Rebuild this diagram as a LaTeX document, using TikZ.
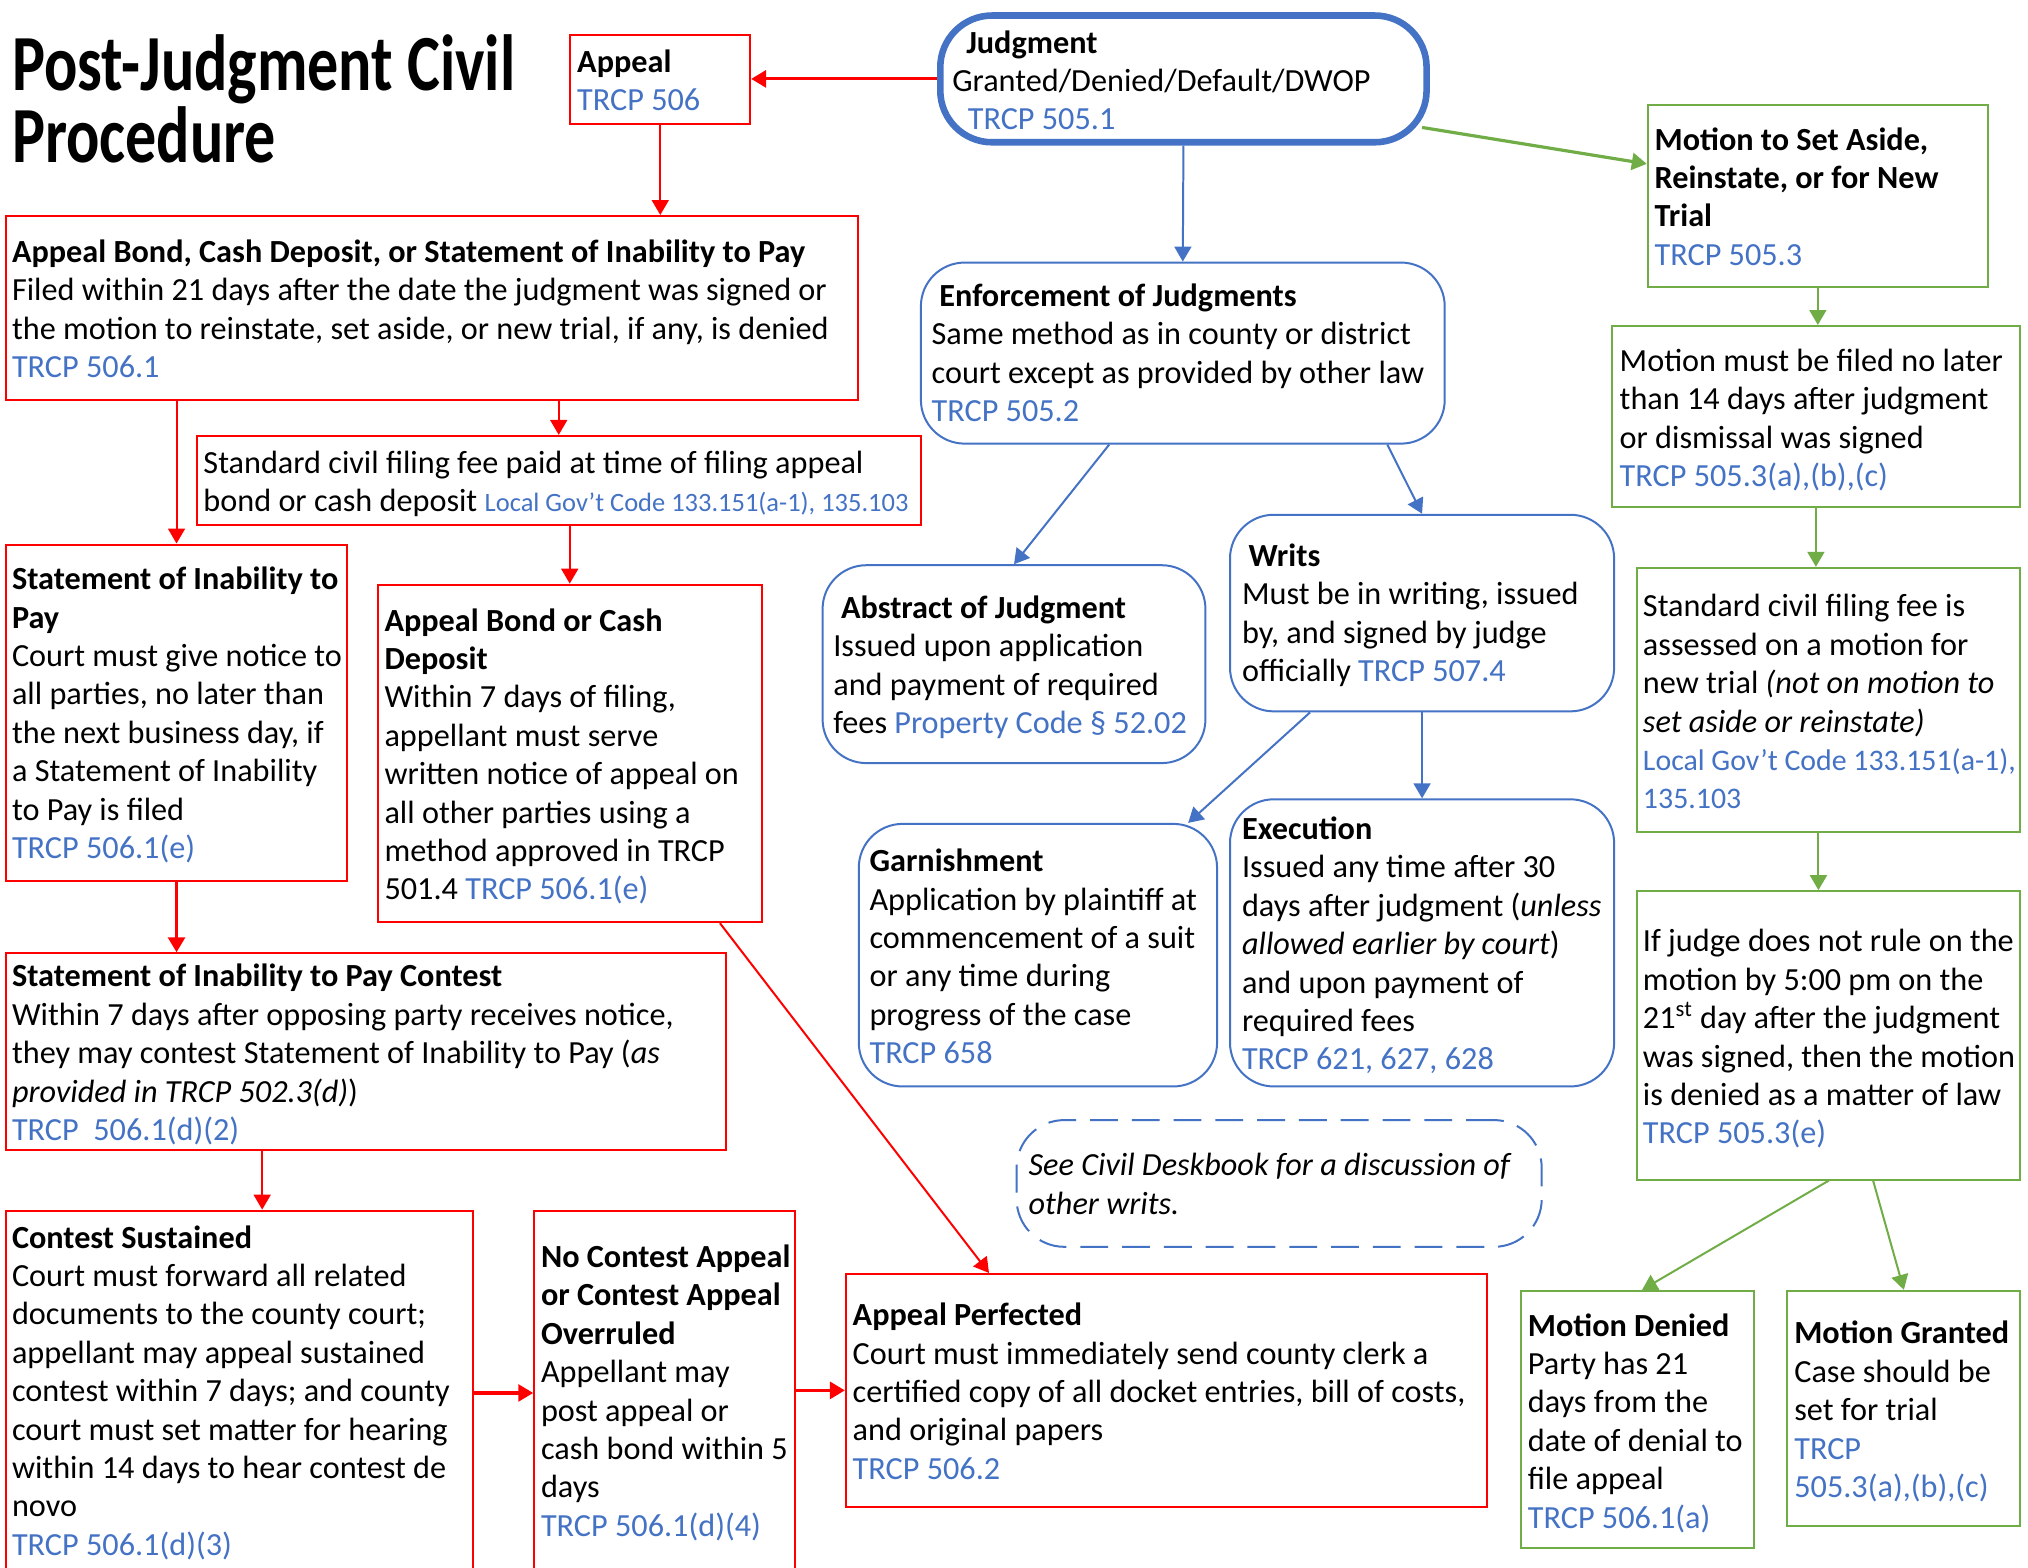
\documentclass[tikz,border=0pt]{standalone}
\usepackage{fontspec}
\usepackage{graphicx}
\setmainfont{Carlito}
\usetikzlibrary{arrows.meta,fit,calc}

\definecolor{refblue}{HTML}{4472C4}
\definecolor{rline}{HTML}{FF0000}
\definecolor{gline}{HTML}{70AD47}
\definecolor{bline}{HTML}{4472C4}

\newcommand\bodyfont{\fontsize{16.2}{19.3}\selectfont}
\newcommand\smallref{\fontsize{13.3}{19.3}\selectfont}
\newcommand\midref{\fontsize{15}{19.3}\selectfont}
\newcommand\titlefont{\fontsize{40}{44}\selectfont\bfseries}
\newcommand\rf[1]{\textcolor{refblue}{#1}}
\newcommand\txtlines[1]{\begin{tabular}[t]{@{}l@{}}#1\end{tabular}}

\tikzset{
  x=0.65pt, y=-0.65pt,
  redbox/.style={inner sep=0pt, draw=rline, line width=1pt},
  greenbox/.style={inner sep=0pt, draw=gline, line width=1pt},
  bluebox/.style={inner sep=0pt, draw=bline, line width=1pt, rounded corners=22pt},
  thickbox/.style={inner sep=0pt, draw=bline, line width=3.3pt, rounded corners=26pt},
  notebox/.style={inner sep=0pt, draw=bline, line width=1pt, rounded corners=24pt, dash pattern=on 14pt off 7pt},
  txt/.style={anchor=base west, inner sep=0pt, font=\bodyfont},
  rarrow/.style={draw=rline, line width=1pt, -{Triangle[length=7.5pt,width=8.5pt]}},
  garrow/.style={draw=gline, line width=1pt, -{Triangle[length=7.5pt,width=8.5pt]}},
  barrow/.style={draw=bline, line width=1pt, -{Triangle[length=7.5pt,width=8.5pt]}},
  heavy/.style={line width=1.6pt},
}

\begin{document}
\begin{tikzpicture}
\useasboundingbox[fill=white] (0,0) rectangle (1568,1212);

% ---------- title ----------
\node[txt, font=\titlefont] (title1) at (9,70) {\scalebox{0.78}[1]{Post-Judgment Civil}};
\node[txt, font=\titlefont] (title2) at (9,126) {\scalebox{0.78}[1]{Procedure}};

% ---------- frames ----------
\node[redbox, fit={(441,27) (580,96)}] (appeal) {};
\node[thickbox, fit={(727,12) (1103,110)}] (judg) {};
\node[greenbox, fit={(1274,81) (1537,222)}] (motion) {};
\node[bluebox, fit={(712,203) (1117,343)}] (enf) {};
\node[redbox, fit={(5,167) (663,309)}] (bond) {};
\node[redbox, fit={(152,337) (712,406)}] (fee) {};
\node[redbox, fit={(5,421) (268,681)}] (sip) {};
\node[redbox, fit={(292,452) (589,713)}] (cash) {};
\node[redbox, fit={(5,737) (561,889)}] (contest) {};
\node[redbox, fit={(5,936) (366,1218)}] (sustain) {};
\node[redbox, fit={(413,936) (615,1218)}] (overrule) {};
\node[redbox, fit={(654,985) (1150,1165)}] (perfect) {};
\node[bluebox, fit={(636,437) (932,590)}] (abstract) {};
\node[bluebox, fit={(951,398) (1248,550)}] (writs) {};
\node[bluebox, fit={(664,637) (941,840)}] (garnish) {};
\node[bluebox, fit={(951,618) (1248,840)}] (exec) {};
\node[notebox, fit={(786,866) (1192,964)}] (note) {};
\node[greenbox, fit={(1246,252) (1562,392)}] (filed) {};
\node[greenbox, fit={(1266,439) (1562,643)}] (mfee) {};
\node[greenbox, fit={(1266,689) (1562,912)}] (norule) {};
\node[greenbox, fit={(1176,998) (1356,1197)}] (denied) {};
\node[greenbox, fit={(1382,998) (1562,1180)}] (granted) {};

% ---------- texts ----------
\node[txt] (t-appeal) at (446,56) {\txtlines{\textbf{Appeal}\\ \rf{TRCP 506}}};
\node[txt] (t-judg) at (736,41) {\txtlines{\hspace*{7pt}\textbf{Judgment}\\ Granted/Denied/Default/DWOP\\ \hspace*{7.8pt}\rf{TRCP 505.1}}};
\node[txt] (t-motion) at (1279,116) {\txtlines{\textbf{Motion to Set Aside,}\\ \textbf{Reinstate, or for New}\\ \textbf{Trial}\\ \rf{TRCP 505.3}}};
\node[txt] (t-enf) at (720,237) {\txtlines{\hspace*{3.9pt}\textbf{Enforcement of Judgments}\\ Same method as in county or district\\ court except as provided by other law\\ \rf{TRCP 505.2}}};
\node[txt] (t-bond) at (9,203) {\txtlines{\textbf{Appeal Bond, Cash Deposit, or Statement of Inability to Pay}\\ Filed within 21 days after the date the judgment was signed or\\ the motion to reinstate, set aside, or new trial, if any, is denied\\ \rf{TRCP 506.1}}};
\node[txt] (t-fee) at (157,366) {\txtlines{Standard civil filing fee paid at time of filing appeal\\ bond or cash deposit {\smallref\rf{Local Gov’t Code 133.151(a-1), 135.103}}}};
\node[txt] (t-sip) at (9,456) {\txtlines{\textbf{Statement of Inability to}\\ \textbf{Pay}\\ Court must give notice to\\ all parties, no later than\\ the next business day, if\\ a Statement of Inability\\ to Pay is filed\\ \rf{TRCP 506.1(e)}}};
\node[txt] (t-cash) at (297,488) {\txtlines{\textbf{Appeal Bond or Cash}\\ \textbf{Deposit}\\ Within 7 days of filing,\\ appellant must serve\\ written notice of appeal on\\ all other parties using a\\ method approved in TRCP\\ 501.4 \rf{TRCP 506.1(e)}}};
\node[txt] (t-contest) at (9,763) {\txtlines{\textbf{Statement of Inability to Pay Contest}\\ Within 7 days after opposing party receives notice,\\ they may contest Statement of Inability to Pay (\textit{as}\\ \textit{provided in TRCP 502.3(d)})\\ \rf{TRCP\ \ 506.1(d)(2)}}};
\node[txt] (t-sustain) at (9,965) {\txtlines{\textbf{Contest Sustained}\\ Court must forward all related\\ documents to the county court;\\ appellant may appeal sustained\\ contest within 7 days; and county\\ court must set matter for hearing\\ within 14 days to hear contest de\\ novo\\ \rf{TRCP 506.1(d)(3)}}};
\node[txt] (t-overrule) at (418,980) {\txtlines{\textbf{No Contest Appeal}\\ \textbf{or Contest Appeal}\\ \textbf{Overruled}\\ Appellant may\\ post appeal or\\ cash bond within 5\\ days\\ \rf{TRCP 506.1(d)(4)}}};
\node[txt] (t-perfect) at (659,1025) {\txtlines{\textbf{Appeal Perfected}\\ Court must immediately send county clerk a\\ certified copy of all docket entries, bill of costs,\\ and original papers\\ \rf{TRCP 506.2}}};
\node[txt] (t-abstract) at (644,478) {\txtlines{\hspace*{3.9pt}\textbf{Abstract of Judgment}\\ Issued upon application\\ and payment of required\\ fees \rf{Property Code § 52.02}}};
\node[txt] (t-writs) at (960,438) {\txtlines{\hspace*{3.3pt}\textbf{Writs}\\ Must be in writing, issued\\ by, and signed by judge\\ officially \rf{TRCP 507.4}}};
\node[txt] (t-garnish) at (672,674) {\txtlines{\textbf{Garnishment}\\ Application by plaintiff at\\ commencement of a suit\\ or any time during\\ progress of the case\\ \rf{TRCP 658}}};
\node[txt] (t-exec) at (960,649) {\txtlines{\textbf{Execution}\\ Issued any time after 30\\ days after judgment (\textit{unless}\\ \textit{allowed earlier by court})\\ and upon payment of\\ required fees\\ \rf{TRCP 621, 627, 628}}};
\node[txt] (t-note) at (795,909) {\txtlines{\textit{See Civil Deskbook for a discussion of}\\ \textit{other writs.}}};
\node[txt] (t-filed) at (1252,287) {\txtlines{Motion must be filed no later\\ than 14 days after judgment\\ or dismissal was signed\\ \rf{TRCP 505.3(a),(b),(c)}}};
\node[txt] (t-mfee) at (1270,477) {\txtlines{Standard civil filing fee is\\ assessed on a motion for\\ new trial \textit{(not on motion to}\\ \textit{set aside or reinstate)}\\ {\midref\rf{Local Gov’t Code 133.151(a-1),}}\\ {\midref\rf{135.103}}}};
\node[txt] (t-norule) at (1270,736) {\txtlines{If judge does not rule on the\\ motion by 5:00 pm on the\\ 21\textsuperscript{st} day after the judgment\\ was signed, then the motion\\ is denied as a matter of law\\ \rf{TRCP 505.3(e)}}};
\node[txt] (t-denied) at (1181,1033) {\txtlines{\textbf{Motion Denied}\\ Party has 21\\ days from the\\ date of denial to\\ file appeal\\ \rf{TRCP 506.1(a)}}};
\node[txt] (t-granted) at (1387,1039) {\txtlines{\textbf{Motion Granted}\\ Case should be\\ set for trial\\ \rf{TRCP}\\ \rf{505.3(a),(b),(c)}}};

% ---------- connectors ----------
\draw[rarrow, heavy] (judg.west) -- (judg.west -| appeal.east);
\draw[rarrow] (appeal.south) -- (appeal.south |- bond.north);
\draw[rarrow] (bond.south -| fee.north) -- (fee.north);
\draw[rarrow] (bond.south -| sip.north) -- (sip.north);
\draw[rarrow] (fee.south -| cash.north) -- (cash.north);
\draw[rarrow, heavy] (sip.south) -- (sip.south |- contest.north);
\draw[rarrow] ($(contest.south west)!0.356!(contest.south east)$) coordinate (c2s) -- (c2s |- sustain.north);
\draw[rarrow, heavy] (sustain.east) -- (overrule.west);
\draw[rarrow, heavy] (overrule.east |- perfect.west) -- (perfect.west);
\draw[rarrow] ($(cash.south west)!0.889!(cash.south east)$) -- ($(perfect.north west)!0.224!(perfect.north east)$);

\draw[barrow] (judg.south) -- (enf.north);
\draw[barrow] ($(enf.south west)!0.36!(enf.south east)$) -- (abstract.north);
\draw[barrow] ($(enf.south west)!0.889!(enf.south east)$) -- (writs.north);
\draw[barrow] ($(writs.south west)!0.21!(writs.south east)$) -- ($(garnish.north west)!0.917!(garnish.north east)$);
\draw[barrow] (writs.south) -- (exec.north);

\draw[garrow, heavy] ($(judg.south east)+(-6,-14)$) -- ($(motion.north west)!0.326!(motion.south west)$);
\draw[garrow] (motion.south) -- (motion.south |- filed.north);
\draw[garrow] (filed.south) -- (filed.south |- mfee.north);
\draw[garrow] ($(mfee.south west)!0.473!(mfee.south east)$) coordinate (m2n) -- (m2n |- norule.north);
\draw[garrow] (norule.south) -- ($(denied.north west)!0.52!(denied.north east)$);
\draw[garrow] ($(norule.south west)!0.615!(norule.south east)$) -- (granted.north);
\end{tikzpicture}
\end{document}
